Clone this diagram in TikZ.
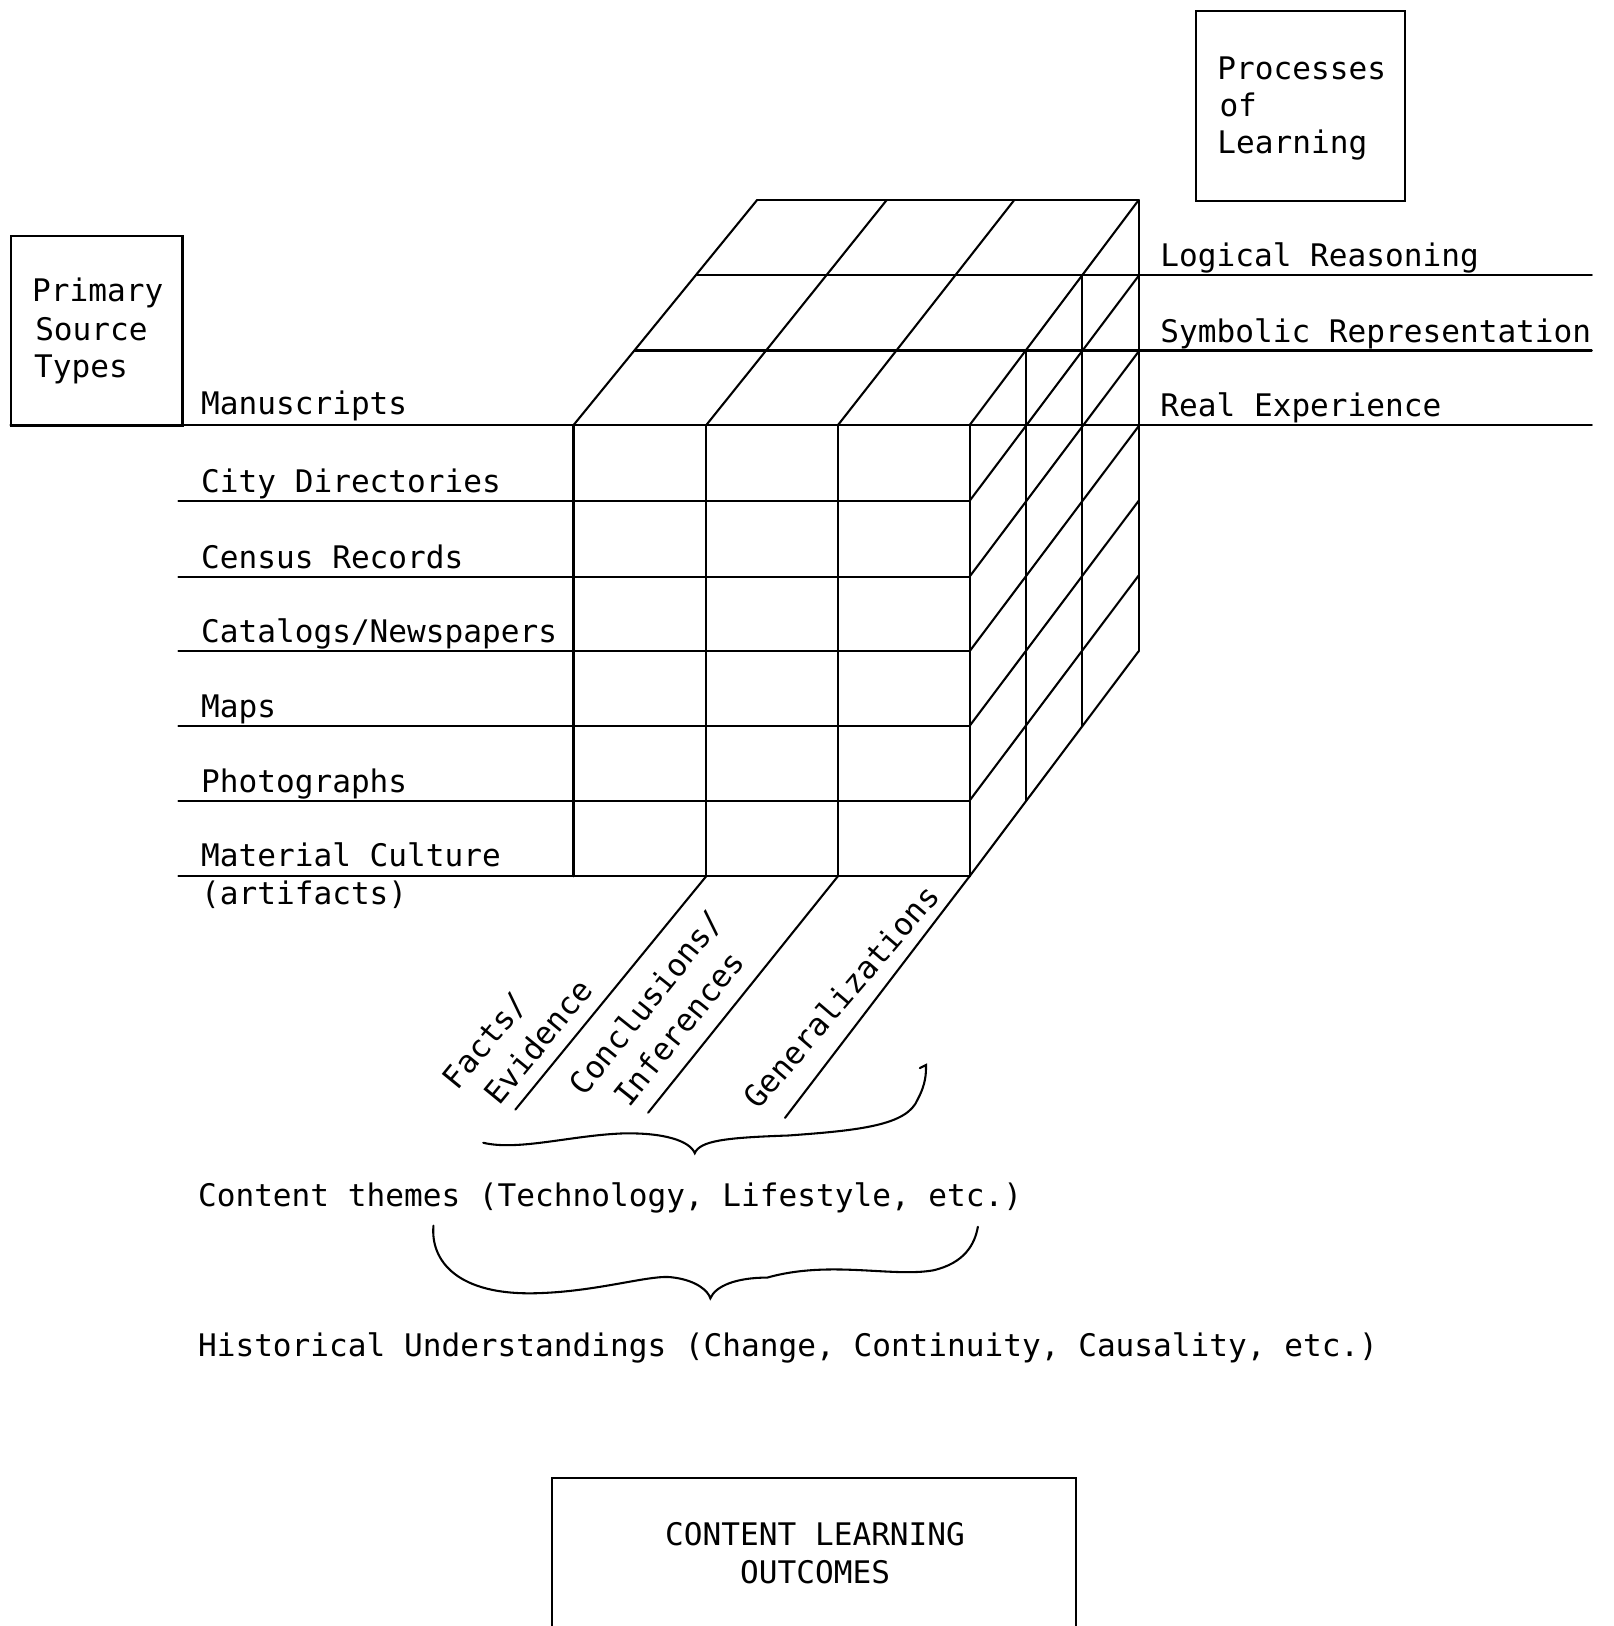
\documentclass[tikz,border=0pt]{standalone}
\usepackage{fontspec}
\setmainfont{DejaVu Sans Mono}
\begin{document}
\begin{tikzpicture}[x=0.5pt,y=-0.5pt,line width=1pt,line cap=round,
  txt/.style={anchor=base west,inner sep=0pt,font=\fontsize{15}{19}\selectfont},
  ctxt/.style={anchor=base,inner sep=0pt,font=\fontsize{15}{19}\selectfont},
  boxnode/.style={draw,line width=1pt,anchor=north west,inner sep=0pt}]
\useasboundingbox (0,0) rectangle (1556,1568);
% ---------- boxes ----------
\node[boxnode,minimum width=82.5pt,minimum height=91.5pt] (pbox) at (10,227) {};
\node[txt] (pt1) at (30,291) {Primary};
\node[txt] (pt2) at (33,328) {Source};
\node[txt] (pt3) at (32,364) {Types};
\node[boxnode,minimum width=101pt,minimum height=91.5pt] (lbox) at (1152,10) {};
\node[txt] (lt1) at (1173,77) {Processes};
\node[txt] (lt2) at (1175,112) {of};
\node[txt] (lt3) at (1173,148) {Learning};
% open box at the bottom
\coordinate (ob1) at (532,1568);
\coordinate (ob2) at (532,1425);
\coordinate (ob3) at (1038,1425);
\coordinate (ob4) at (1038,1568);
\draw (ob1) -- (ob2) -- (ob3) -- (ob4);
\node[ctxt] (co1) at (786,1490) {CONTENT LEARNING};
\node[ctxt] (co2) at (786,1527) {OUTCOMES};
% ---------- cube coordinates ----------
\foreach \j/\x in {0/553,1/681,2/808,3/935}{
  \foreach \i/\y in {0/410,1/483,2/556,3/628,4/700,5/772,6/845}{
    \coordinate (f-\j-\i) at (\x,\y);
  }
}
\foreach \i/\y in {1/483,2/556,3/628,4/700,5/772,6/845}{
  \coordinate (l-\i) at (172,\y);
  \coordinate (r-\i) at (1098,\y-217);
}
\coordinate (t-0) at (730,193);
\coordinate (t-1) at (855,193);
\coordinate (t-2) at (978,193);
\coordinate (t-3) at (1098,193);
\coordinate (h1a) at (612,338);
\coordinate (h1b) at (1535,338);
\coordinate (h2a) at (672,265);
\coordinate (h2b) at (1535,265);
\coordinate (m-a) at (10,410);
\coordinate (m-b) at (1535,410);
\coordinate (v1a) at (989,338);
\coordinate (v1b) at (989,772);
\coordinate (v2a) at (1043,265);
\coordinate (v2b) at (1043,700);
\coordinate (e-1) at (497,1070);
\coordinate (e-2) at (625,1073);
\coordinate (e-3) at (757,1078);
% ---------- cube lines ----------
\draw (m-a) -- (m-b);
\draw (h1a) -- (h1b);
\draw (h2a) -- (h2b);
\draw (t-0) -- (t-3);
\foreach \i in {1,...,6}{
  \draw (l-\i) -- (f-3-\i);
  \draw (f-3-\i) -- (r-\i);
}
\foreach \j in {0,...,3}{
  \draw (f-\j-0) -- (f-\j-6);
  \draw (f-\j-0) -- (t-\j);
}
\draw (v1a) -- (v1b);
\draw (v2a) -- (v2b);
\draw (t-3) -- (r-6);
\draw (f-1-6) -- (e-1);
\draw (f-2-6) -- (e-2);
\draw (f-3-6) -- (e-3);
% ---------- labels ----------
\node[txt] (s1) at (193,400) {Manuscripts};
\node[txt] (s2) at (193,475) {City Directories};
\node[txt] (s3) at (193,548) {Census Records};
\node[txt] (s4) at (193,620) {Catalogs/Newspapers};
\node[txt] (s5) at (193,692) {Maps};
\node[txt] (s6) at (193,764) {Photographs};
\node[txt] (s7) at (193,836) {Material Culture};
\node[txt] (s8) at (193,872) {(artifacts)};
\node[txt] (p1) at (1118,257) {Logical Reasoning};
\node[txt] (p2) at (1118,330) {Symbolic Representation};
\node[txt] (p3) at (1118,402) {Real Experience};
\node[txt,rotate=50.7] (d1) at (441,1053) {Facts/};
\node[txt,rotate=50.7] (d2) at (481,1068) {Evidence};
\node[txt,rotate=51.3] (d3) at (563,1059) {Conclusions/};
\node[txt,rotate=51.3] (d4) at (606,1070) {Inferences};
\node[txt,rotate=49.5] (d5) at (731,1072) {Generalizations};
\node[txt] (ct) at (190,1163) {Content themes (Technology, Lifestyle, etc.)};
\node[txt] (hu) at (190,1308) {Historical Understandings (Change, Continuity, Causality, etc.)};
% ---------- braces ----------
\coordinate (b1s) at (466,1102);
\coordinate (b1m) at (600,1093);
\coordinate (b1t) at (670,1112);
\coordinate (b1n) at (760,1095);
\coordinate (b1r) at (885,1060);
\coordinate (b1e) at (893,1027);
\draw (b1s) .. controls (500,1110) and (550,1095) .. (b1m)
  .. controls (640,1092) and (665,1100) .. (b1t)
  .. controls (675,1100) and (700,1097) .. (b1n)
  .. controls (830,1090) and (875,1085) .. (b1r)
  .. controls (893,1045) and (893,1035) .. (b1e) -- ++(-6,3);
\coordinate (b2s) at (418,1182);
\coordinate (b2l) at (520,1247);
\coordinate (b2m) at (650,1232);
\coordinate (b2t) at (685,1252);
\coordinate (b2n) at (740,1232);
\coordinate (b2r) at (900,1225);
\coordinate (b2e) at (943,1183);
\draw (b2s) .. controls (415,1215) and (440,1250) .. (b2l)
  .. controls (580,1245) and (630,1228) .. (b2m)
  .. controls (672,1235) and (683,1245) .. (b2t)
  .. controls (690,1240) and (710,1232) .. (b2n)
  .. controls (800,1215) and (860,1232) .. (b2r)
  .. controls (930,1218) and (940,1200) .. (b2e);
\end{tikzpicture}
\end{document}
